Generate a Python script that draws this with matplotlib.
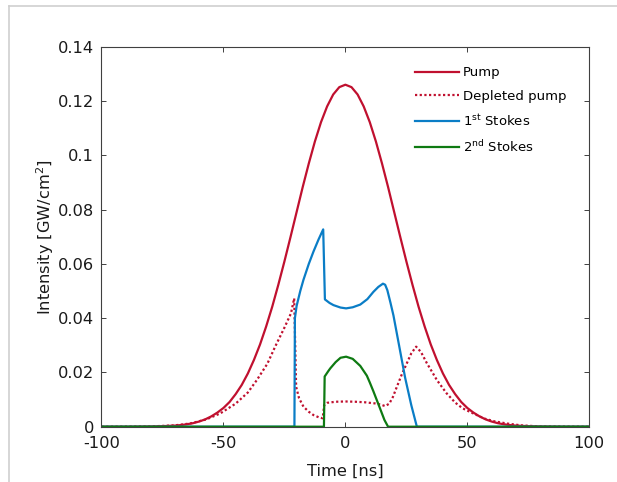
import numpy as np
import matplotlib.pyplot as plt
from matplotlib.lines import Line2D

plt.rcParams['font.family'] = ['DejaVu Sans']
plt.rcParams['mathtext.fontset'] = 'dejavusans'

# pump pulse
t_pump = [-100, -90, -80, -75, -70, -67.5, -65, -62.5, -60, -57.5, -55, -52.5, -50,
          -47.5, -45, -42.5, -40, -37.5, -35, -32.5, -30, -27.5, -25, -22.5, -20,
          -17.5, -15, -12.5, -10, -7.5, -5, -2.5, 0, 2.5, 5, 7.5, 10, 12.5, 15,
          17.5, 20, 22.5, 25, 27.5, 30, 32.5, 35, 37.5, 40, 42.5, 45, 47.5, 50,
          52.5, 55, 57.5, 60, 62.5, 65, 67.5, 70, 75, 80, 90, 100]
pump = [0, 0, 0.0001, 0.0002, 0.0004, 0.0006, 0.0009, 0.0013, 0.0019, 0.0027, 0.0038, 0.0052, 0.0069,
        0.0091, 0.0120, 0.0154, 0.0196, 0.0246, 0.0303, 0.0369, 0.0442, 0.0523, 0.0609, 0.0699, 0.0791,
        0.0883, 0.0970, 0.1051, 0.1122, 0.1180, 0.1224, 0.1251, 0.1260, 0.1251, 0.1224, 0.1180, 0.1122, 0.1051, 0.0970,
        0.0883, 0.0791, 0.0699, 0.0609, 0.0523, 0.0442, 0.0369, 0.0303, 0.0246, 0.0196, 0.0154, 0.0120, 0.0091, 0.0069,
        0.0052, 0.0038, 0.0027, 0.0019, 0.0013, 0.0009, 0.0006, 0.0004, 0.0002, 0.0001, 0, 0]

# depleted pump
t_dep = [-100, -80, -70, -63.6, -57, -51.3, -45, -40, -36.3, -32, -28.8, -25, -22.3, -21.0,
         -20.2, -19.0, -17.2, -15, -13.1, -11, -9.3, -8.7, -7.5, -4, 0, 4, 8, 12, 14.3,
         16.3, 18, 19.5, 21.1, 23, 25.2, 27, 29, 31, 33.4, 36, 37.5, 41.5, 45, 48, 52.4,
         57, 61, 66.1, 72, 80, 100]
dep = [0, 0.0001, 0.0005, 0.0012, 0.0027, 0.0049, 0.0085, 0.0126, 0.0172, 0.0232, 0.0295, 0.0365, 0.0418, 0.0473,
       0.0147, 0.0105, 0.0074, 0.0055, 0.0043, 0.0035, 0.0031, 0.0080, 0.0088, 0.0092, 0.0093, 0.0092, 0.0090, 0.0086, 0.0082,
       0.0076, 0.0085, 0.0110, 0.0147, 0.0190, 0.0234, 0.0270, 0.0295, 0.0275, 0.0234, 0.0195, 0.0172, 0.0123, 0.0089, 0.0068, 0.0049,
       0.0030, 0.0020, 0.0012, 0.0005, 0.0001, 0]

# first Stokes
t_s1 = [-100, -20.9, -20.7, -20, -18.5, -17.2, -15, -13.1, -11, -9.1, -8.4, -6.5, -4.9, -2,
        0.3, 3, 6.1, 9, 11.5, 13.5, 15.4, 16.3, 17.2, 18.5, 19.7, 22, 24.5, 27, 29.3, 100]
s1 = [0, 0, 0.0400, 0.0445, 0.0500, 0.0541, 0.0600, 0.0645, 0.0690, 0.0727, 0.0469, 0.0456, 0.0448, 0.0439,
      0.0436, 0.0440, 0.0450, 0.0470, 0.0497, 0.0515, 0.0527, 0.0523, 0.0503, 0.0456, 0.0410, 0.0300, 0.0180, 0.0080, 0, 0]

# second Stokes
t_s2 = [-100, -8.8, -8.5, -7, -6.2, -4, -2, 0.3, 3, 6.1, 8.8, 10, 11.5, 14.3, 16, 17.5, 100]
s2 = [0, 0, 0.0185, 0.0205, 0.0215, 0.0238, 0.0254, 0.0258, 0.0250, 0.0224, 0.0188, 0.0163, 0.0130, 0.0065, 0.0025, 0, 0]

yticks = [0, 0.02, 0.04, 0.06, 0.08, 0.1, 0.12, 0.14]
ylabels = ['0', '0.02', '0.04', '0.06', '0.08', '0.1', '0.12', '0.14']
xticks = [-100, -50, 0, 50, 100]

c_pump = '#C0102F'
c_s1 = '#0A7DC6'
c_s2 = '#0E7A12'

fig = plt.figure(figsize=(6.17, 4.82), dpi=100)
ax = fig.add_axes([0.1645, 0.1147, 0.7906, 0.7884])

ax.plot(t_pump, pump, color=c_pump, lw=1.6, label='Pump')
ax.plot(t_dep, dep, color=c_pump, lw=1.6, ls=(0, (1, 1.1)), label='Depleted pump')
ax.plot(t_s1, s1, color=c_s1, lw=1.6, label='1$^{\\rm st}$ Stokes')
ax.plot(t_s2, s2, color=c_s2, lw=1.6, label='2$^{\\rm nd}$ Stokes')

ax.set_xlim(-100, 100)
ax.set_ylim(0, 0.14)
ax.set_xticks(xticks)
ax.set_xticklabels([str(v) for v in xticks])
ax.set_yticks(yticks)
ax.set_yticklabels(ylabels)
ax.tick_params(direction='in', top=True, right=True, length=3.6, width=0.7,
               colors='#404040', labelcolor='#1a1a1a', labelsize=11.7, pad=5.5)
ax.tick_params(axis='x', pad=7)
for s in ax.spines.values():
    s.set_color('#404040')
    s.set_linewidth(0.8)

ax.set_xlabel('Time [ns]', fontsize=11.7, color='#1a1a1a', labelpad=9)
ax.set_ylabel('Intensity [GW/cm$^2$]', fontsize=11.7, color='#1a1a1a', labelpad=1.5)

ax.legend(loc='upper left', bbox_to_anchor=(0.643, 0.948), frameon=False, fontsize=9.5,
          handlelength=3.3, handletextpad=0.3, labelspacing=0.78, borderpad=0, borderaxespad=0)

# light frame of the screenshot
fig.add_artist(Line2D([9 / 617, 1], [1 - 5.5 / 482, 1 - 5.5 / 482], color='#cfcfcf', lw=1.2))
fig.add_artist(Line2D([9 / 617, 9 / 617], [0, 1 - 5.5 / 482], color='#cfcfcf', lw=1.2))

fig.savefig('out.png', dpi=100)
